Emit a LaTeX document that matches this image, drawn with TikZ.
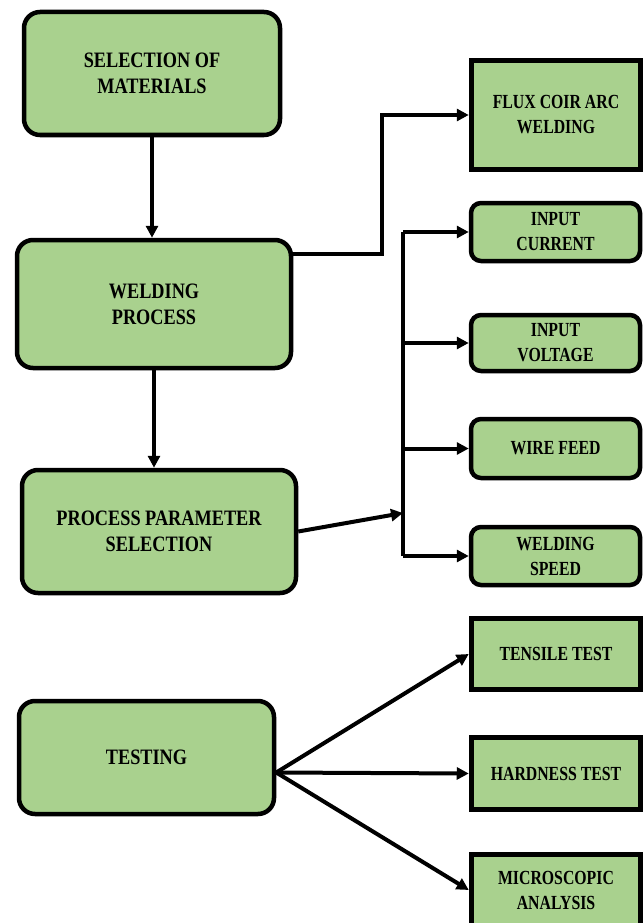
\documentclass[tikz,border=0pt]{standalone}
\usepackage{fontspec}
\setmainfont{Liberation Serif}
\newfontfamily\bigfont{Liberation Serif}[FakeStretch=0.83]
\newfontfamily\smallfont{Liberation Serif}[FakeStretch=0.79]
\usetikzlibrary{arrows.meta}
\definecolor{boxgreen}{RGB}{169,209,142}
\begin{document}
\begin{tikzpicture}[x=1pt,y=-1pt,
	txt/.style={align=center,fill=boxgreen,inner sep=0pt},
	bigbox/.style={txt,font=\bigfont\bfseries\fontsize{22}{26}\selectfont,draw,line width=4.5pt,rounded corners=16pt},
	smallbox/.style={txt,font=\smallfont\bfseries\fontsize{20}{25}\selectfont,draw,line width=4.5pt,rounded corners=10pt,minimum width=169pt},
	sharpbox/.style={smallbox,line width=5.5pt,sharp corners},
	conn/.style={line width=4pt},
	arr/.style={conn,-{Triangle[length=12pt,width=12pt]}}]
	\useasboundingbox (0,0) rectangle (643,923);
	
	\node[bigbox,minimum width=256pt,minimum height=123pt] (sel) at (152,73.5) {SELECTION OF\\MATERIALS};
	\node[bigbox,minimum width=274pt,minimum height=128pt] (weld) at (154,304) {WELDING\\PROCESS};
	\node[bigbox,minimum width=274pt,minimum height=123pt] (param) at (159,531.5) {PROCESS PARAMETER\\SELECTION};
	\node[bigbox,minimum width=255pt,minimum height=113pt] (test) at (146.5,757.5) {TESTING};
	
	\node[sharpbox,minimum height=109pt] (flux) at (556,115) {FLUX COIR ARC\\WELDING};
	\node[smallbox,minimum height=58pt] (cur) at (555.5,232) {INPUT\\CURRENT};
	\node[smallbox,minimum height=56pt] (volt) at (555.5,343) {INPUT\\VOLTAGE};
	\node[smallbox,minimum height=59pt] (wire) at (555.5,448.5) {WIRE FEED};
	\node[smallbox,minimum height=58pt] (spd) at (555.5,556) {WELDING\\SPEED};
	
	\node[sharpbox,minimum height=71pt] (tens) at (556,654) {TENSILE TEST};
	\node[sharpbox,minimum height=72pt] (hard) at (556,773.5) {HARDNESS TEST};
	\node[sharpbox,minimum height=71pt] (micro) at (556,890) {MICROSCOPIC\\ANALYSIS};
	
	\coordinate (elbow) at (382,254);
	\coordinate (bus) at (403,513);
	\coordinate (fork) at ([yshift=-15pt]test.east);
	
	\draw[arr] (sel.south) -- (sel.south |- weld.north);
	\draw[arr] (weld.east |- elbow) -- (elbow) |- (flux.west);
	\draw[arr] (weld.south) -- (weld.south |- param.north);
	\draw[arr] (param.east) -- (bus);
	\draw[conn] (cur.west -| bus) -- (spd.west -| bus);
	\foreach \n in {cur,volt,wire,spd}
		\draw[arr] (\n.west -| bus) -- (\n.west);
	\foreach \n in {tens,hard,micro}
		\draw[arr] (fork) -- (\n.west);
\end{tikzpicture}
\end{document}
